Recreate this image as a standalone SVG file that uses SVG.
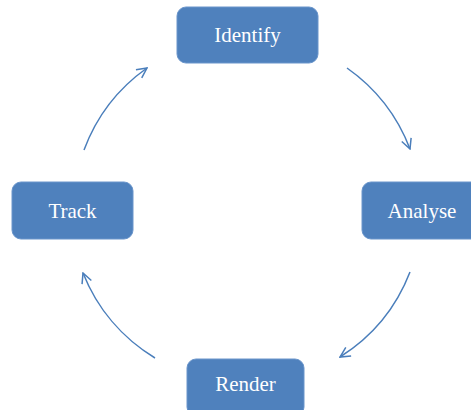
<svg xmlns="http://www.w3.org/2000/svg" width="471" height="410" viewBox="0 0 471 410">
<style>
.box{fill:#4F81BD;stroke:#6A95CB;stroke-width:1}
.lbl{font-family:"Liberation Serif","Times New Roman",serif;font-size:21px;fill:#FFFFFF;text-anchor:middle}
.arc{fill:none;stroke:#4A7EBB;stroke-width:1.5;marker-end:url(#ah)}
</style>
<defs>
<marker id="ah" viewBox="0 0 12 12" refX="11" refY="6" markerWidth="12" markerHeight="12" markerUnits="userSpaceOnUse" orient="auto">
<path d="M1,1 L11,6 L1,11" fill="none" stroke="#4A7EBB" stroke-width="1.5"/>
</marker>
</defs>
<rect width="471" height="410" fill="#FFFFFF"/>
<g id="connectors">
<path class="arc" d="M347,68 A175,175 0 0 1 410,149"/>
<path class="arc" d="M410,272 A175,175 0 0 1 340,357"/>
<path class="arc" d="M155,358 A175,175 0 0 1 83,273"/>
<path class="arc" d="M84,150 A175,175 0 0 1 147,68"/>
</g>
<g id="identify">
<rect class="box" x="177" y="7" width="141" height="56" rx="9"/>
<text class="lbl" x="247.5" y="42">Identify</text>
</g>
<g id="analyse">
<rect class="box" x="362" y="182" width="121" height="57" rx="9"/>
<text class="lbl" x="422" y="218">Analyse</text>
</g>
<g id="render">
<rect class="box" x="187" y="359" width="117" height="57" rx="9"/>
<text class="lbl" x="245.5" y="391">Render</text>
</g>
<g id="track">
<rect class="box" x="12" y="182" width="121" height="57" rx="9"/>
<text class="lbl" x="72.5" y="218">Track</text>
</g>
</svg>
